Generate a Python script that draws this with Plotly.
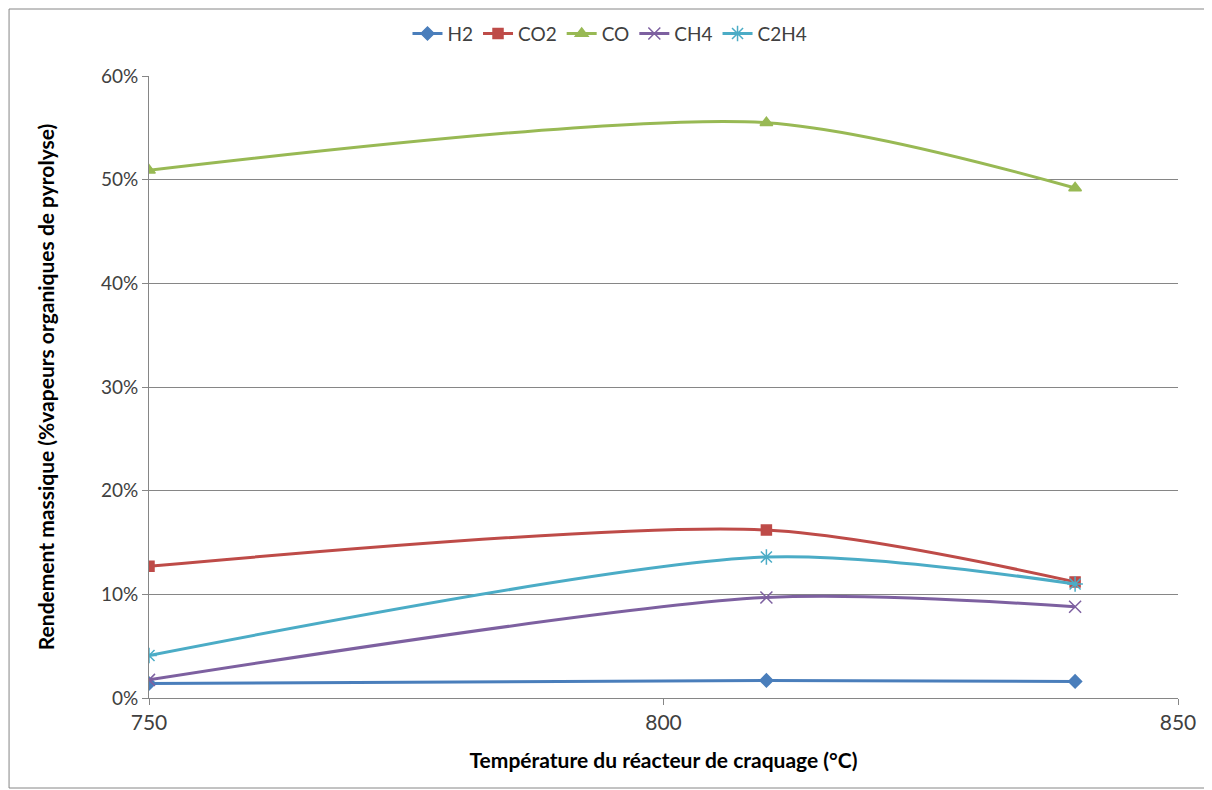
import plotly.graph_objects as go

temperature = [750, 810, 840]
h2 = [0.014, 0.017, 0.016]
co2 = [0.127, 0.162, 0.112]
co = [0.509, 0.555, 0.492]
ch4 = [0.0175, 0.097, 0.088]
c2h4 = [0.041, 0.136, 0.110]

series = [
    ("H2", h2, "#4A7EBB", "diamond", 10),
    ("CO2", co2, "#BE4B48", "square", 10),
    ("CO", co, "#98B954", "triangle-up", 11),
    ("CH4", ch4, "#7D60A0", "x-thin", 12),
    ("C2H4", c2h4, "#4BACC6", "asterisk", 13),
]

fig = go.Figure()
for name, vals, color, sym, size in series:
    fig.add_trace(go.Scatter(
        x=temperature, y=vals, name=name, mode="lines+markers",
        line=dict(color=color, width=3, shape="spline", smoothing=0.8),
        marker=dict(symbol=sym, size=size, color=color,
                    line=dict(color=color, width=1.5)),
    ))

fig.update_layout(
    width=1212, height=790,
    paper_bgcolor="white", plot_bgcolor="white",
    margin=dict(l=141, r=42, t=68, b=100, autoexpand=False),
    font=dict(family="Lato, 'Open Sans', sans-serif", color="#404040", size=19),
    legend=dict(orientation="h", x=0.448, xanchor="center", y=1.068, yanchor="middle",
                font=dict(size=19, color="#404040"), itemwidth=30, tracegroupgap=0),
    xaxis=dict(
        range=[750, 850], tickvals=[750, 800, 850], showgrid=False,
        showline=True, linecolor="#868686", linewidth=1,
        ticks="outside", ticklen=6, tickcolor="#868686",
        tickfont=dict(size=21),
        zeroline=False,
        title=dict(text="<b>Température du réacteur de craquage (°C)</b>",
                   font=dict(size=21, color="#000000"), standoff=20),
    ),
    yaxis=dict(
        range=[0, 0.6], dtick=0.1, tickformat=".0%",
        showgrid=True, gridcolor="#868686", gridwidth=1,
        showline=True, linecolor="#868686", linewidth=1,
        ticks="outside", ticklen=6, tickcolor="#868686",
        tickfont=dict(size=19),
        zeroline=False,
        title=dict(text="<b>Rendement massique (%vapeurs organiques de pyrolyse)</b>",
                   font=dict(size=21, color="#000000"), standoff=40),
    ),
)

fig.add_shape(type="rect", xref="paper", yref="paper",
              x0=-0.136, x1=1.07, y0=-0.1447, y1=1.1077,
              line=dict(color="#868686", width=1), layer="below")

fig.write_html("out.html")
